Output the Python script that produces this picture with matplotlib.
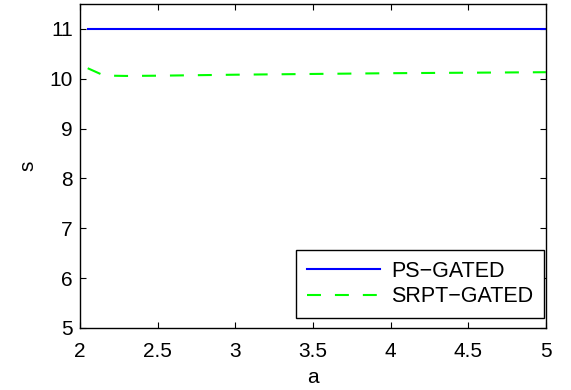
import matplotlib
matplotlib.use("Agg")
import matplotlib.pyplot as plt

plt.rcParams["font.family"] = ["Liberation Sans", "DejaVu Sans"]

a_ps = [2.05, 5.0]
s_ps = [11.0, 11.0]

a_srpt = [2.05, 2.1, 2.15, 2.2, 2.3, 2.5, 2.75, 3.0, 3.5, 4.0, 4.5, 5.0]
s_srpt = [10.21, 10.14, 10.07, 10.06, 10.055, 10.06, 10.07, 10.08, 10.095, 10.11, 10.12, 10.13]

xticks = [2, 2.5, 3, 3.5, 4, 4.5, 5]
xtick_labels = ["2", "2.5", "3", "3.5", "4", "4.5", "5"]
yticks = [5, 6, 7, 8, 9, 10, 11]

fig = plt.figure(figsize=(5.71, 3.9), dpi=100)
ax = fig.add_axes([0.140, 0.159, 0.816, 0.831])

ax.plot(a_ps, s_ps, color="#0000ff", lw=1.5, label="PS\u2212GATED")
ax.plot(a_srpt, s_srpt, color="#00ff00", lw=1.5, dashes=(6.7, 6.7), label="SRPT\u2212GATED")

ax.set_xlim(2, 5)
ax.set_ylim(5, 11.5)
ax.set_xticks(xticks)
ax.set_xticklabels(xtick_labels)
ax.set_yticks(yticks)
ax.tick_params(direction="in", length=4, width=0.8, labelsize=15,
               top=True, right=True)
ax.tick_params(axis="x", pad=10)
ax.tick_params(axis="y", pad=5)
for sp in ax.spines.values():
    sp.set_linewidth(1.0)

ax.set_xlabel("a", fontsize=15, labelpad=5)
ax.set_ylabel("s", fontsize=15, labelpad=9)

leg = ax.legend(loc="lower right", bbox_to_anchor=(0.9957, 0.031), fontsize=15.5,
                frameon=True, fancybox=False, edgecolor="black", framealpha=1,
                handlelength=3.4, borderaxespad=0, borderpad=0.5,
                labelspacing=0.2, handletextpad=0.5)
leg.get_frame().set_linewidth(1.0)

fig.savefig("out.png", dpi=100)
